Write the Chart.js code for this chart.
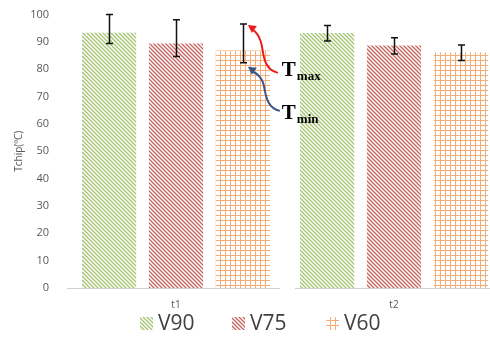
<!DOCTYPE html>
<html><head><meta charset="utf-8">
<script src="https://cdn.jsdelivr.net/npm/chart.js@4"></script>
<style>html,body{margin:0;padding:0;background:#fff;overflow:hidden;}#wrap{width:506px;height:338px;overflow:hidden;}#c{display:block;margin-top:-10px;}</style>
</head><body><div id="wrap"><canvas id="c" width="506" height="348"></canvas></div>
<script>
const categories = ['t1', 't2'];
const seriesNames = ['V90', 'V75', 'V60'];
const v90 = [93.4, 93.3];
const v75 = [89.4, 88.7];
const v60 = [86.9, 86.2];
const v90Min = [89.4, 90.3];
const v90Max = [100, 96.0];
const v75Min = [84.7, 85.6];
const v75Max = [98.1, 91.5];
const v60Min = [82.4, 83.2];
const v60Max = [96.6, 88.9];
const yTicks = [0, 10, 20, 30, 40, 50, 60, 70, 80, 90, 100];

function diagPattern(color, lw) {
  const s = 4, c = document.createElement('canvas');
  c.width = s; c.height = s;
  const x = c.getContext('2d');
  x.fillStyle = '#fff'; x.fillRect(0, 0, s, s);
  x.strokeStyle = color; x.lineWidth = lw;
  x.beginPath();
  x.moveTo(-1, -1); x.lineTo(s + 1, s + 1);
  x.moveTo(-1, s - 1); x.lineTo(1, s + 1);
  x.moveTo(s - 1, -1); x.lineTo(s + 1, 1);
  x.stroke();
  return x.createPattern(c, 'repeat');
}
function gridPattern(color) {
  const s = 5, c = document.createElement('canvas');
  c.width = s; c.height = s;
  const x = c.getContext('2d');
  x.fillStyle = '#fff'; x.fillRect(0, 0, s, s);
  x.fillStyle = color;
  x.fillRect(0, 0, s, 1); x.fillRect(0, 0, 1, s);
  return x.createPattern(c, 'repeat');
}
const fills = [diagPattern('#a3c46f', 1.3), diagPattern('#c8625f', 1.3), gridPattern('#f5ad78')];
const values = [v90, v75, v60];
const mins = [v90Min, v75Min, v60Min];
const maxs = [v90Max, v75Max, v60Max];

const errorBars = {
  id: 'errorBars',
  afterDatasetsDraw(chart) {
    const ctx = chart.ctx, y = chart.scales.y;
    ctx.save();
    ctx.strokeStyle = '#111'; ctx.lineWidth = 1.5;
    chart.data.datasets.forEach((ds, di) => {
      chart.getDatasetMeta(di).data.forEach((bar, i) => {
        const x = Math.round(bar.x) + 0.5;
        const yt = y.getPixelForValue(maxs[di][i]);
        const yb = y.getPixelForValue(mins[di][i]);
        ctx.beginPath();
        ctx.moveTo(x, yt); ctx.lineTo(x, yb);
        ctx.moveTo(x - 3.5, yt); ctx.lineTo(x + 3.5, yt);
        ctx.moveTo(x - 3.5, yb); ctx.lineTo(x + 3.5, yb);
        ctx.stroke();
      });
    });
    ctx.restore();
  }
};

const axisLine = {
  id: 'axisLine',
  afterDatasetsDraw(chart) {
    const ctx = chart.ctx, a = chart.chartArea;
    const mid = (a.left + a.right) / 2;
    const yy = Math.round(a.bottom) + 0.5;
    ctx.save();
    ctx.strokeStyle = '#d0d0d0'; ctx.lineWidth = 1;
    ctx.beginPath();
    ctx.moveTo(a.left, yy); ctx.lineTo(mid - 5, yy);
    ctx.moveTo(mid + 10, yy); ctx.lineTo(a.right, yy);
    ctx.stroke();
    ctx.restore();
  }
};

const customLegend = {
  id: 'customLegend',
  afterDraw(chart) {
    const ctx = chart.ctx;
    const xs = [140, 232, 326];
    const cy = 333;
    ctx.save();
    ctx.font = '21px "Open Sans"';
    ctx.textBaseline = 'middle';
    chart.data.datasets.forEach((ds, i) => {
      ctx.fillStyle = ds.backgroundColor;
      ctx.fillRect(xs[i], cy - 6, 13, 13);
      ctx.fillStyle = '#404040';
      ctx.fillText(ds.label, xs[i] + 18, cy + 1);
    });
    ctx.restore();
  }
};

const annot = {
  id: 'annot',
  afterDraw(chart) {
    const ctx = chart.ctx, y = chart.scales.y;
    const bar = chart.getDatasetMeta(2).data[0];
    const bx = bar.x;
    const yTop = y.getPixelForValue(v60Max[0]);
    const yBot = y.getPixelForValue(v60Min[0]);
    function arrow(color, sx, sy, tx, ty) {
      ctx.save();
      ctx.strokeStyle = color; ctx.fillStyle = color; ctx.lineWidth = 2;
      ctx.beginPath();
      ctx.moveTo(sx, sy);
      ctx.bezierCurveTo(sx - 16, sy - 4, sx - 14, sy - 22, sx - 17, ty + (sy - ty) * 0.35);
      ctx.quadraticCurveTo(sx - 20, ty + 8, tx + 5, ty + 5);
      ctx.stroke();
      ctx.beginPath();
      ctx.moveTo(tx, ty);
      ctx.lineTo(tx + 9, ty + 1);
      ctx.lineTo(tx + 4, ty + 8);
      ctx.closePath();
      ctx.fill();
      ctx.restore();
    }
    arrow('#ee1c1c', bx + 35, yTop + 49, bx + 5, yTop + 1);
    arrow('#3b5687', bx + 37, yTop + 87, bx + 5, yBot + 4);
    ctx.save();
    ctx.fillStyle = '#000';
    ctx.textBaseline = 'alphabetic';
    function label(x0, base, sub) {
      ctx.font = 'bold 21px "Liberation Serif"';
      ctx.fillText('T', x0, base);
      const w = ctx.measureText('T').width;
      ctx.font = 'bold 13px "Liberation Serif"';
      ctx.fillText(sub, x0 + w + 1, base + 4);
    }
    label(bx + 39, yTop + 52, 'max');
    label(bx + 39, yTop + 95, 'min');
    ctx.restore();
  }
};

new Chart(document.getElementById('c'), {
  type: 'bar',
  data: {
    labels: categories,
    datasets: seriesNames.map((n, i) => ({
      label: n,
      data: values[i],
      backgroundColor: fills[i],
      borderWidth: 0,
      barPercentage: 0.81,
      categoryPercentage: 0.92
    }))
  },
  options: {
    responsive: false,
    animation: false,
    devicePixelRatio: 1,
    layout: { padding: { left: 9, right: 3, top: 0, bottom: 25 } },
    plugins: {
      legend: { display: false },
      tooltip: { enabled: false }
    },
    scales: {
      x: {
        grid: { display: false, drawTicks: false },
        border: { display: false },
        afterFit(s) { s.height = 25; },
        ticks: { color: '#595959', font: { family: 'Open Sans', size: 10 }, padding: 11 }
      },
      y: {
        min: 0, max: 100,
        afterBuildTicks(s) { s.ticks = yTicks.map(v => ({ value: v })); },
        afterFit(s) { s.width = 58; },
        grid: { display: false, drawTicks: false },
        border: { display: false },
        ticks: { color: '#595959', font: { family: 'Open Sans', size: 11 }, padding: 18 },
        title: { display: true, text: 'Tchip(ºC)', color: '#595959', font: { family: 'Open Sans', size: 10 }, padding: 4 }
      }
    }
  },
  plugins: [errorBars, axisLine, customLegend, annot]
});
</script>
</body></html>
